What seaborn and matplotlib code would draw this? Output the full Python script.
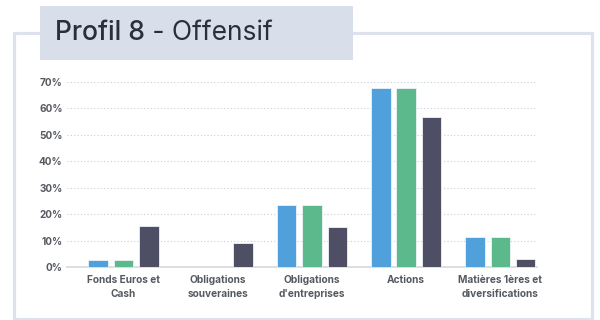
import matplotlib
matplotlib.use("Agg")
import matplotlib.pyplot as plt
from matplotlib.patches import Rectangle
from matplotlib.ticker import PercentFormatter
import pandas as pd
import seaborn as sns

# Asset classes and the allocation (in %) of each of the three portfolios
categories = [
    "Fonds Euros et\nCash",
    "Obligations\nsouveraines",
    "Obligations\nd'entreprises",
    "Actions",
    "Matières 1ères et\ndiversifications",
]
series_names = ["Allocation A", "Allocation B", "Allocation C"]
alloc_a = [2.8, 0, 23.3, 67.5, 11.2]
alloc_b = [2.8, 0, 23.3, 67.5, 11.2]
alloc_c = [15.5, 9.0, 15.0, 56.8, 3.0]
y_ticks = [0, 10, 20, 30, 40, 50, 60, 70]
title_main = "Profil 8"
title_rest = " - Offensif"

palette = ["#50a0dc", "#5bb98b", "#4e4f64"]

rows = []
for name, vals in zip(series_names, [alloc_a, alloc_b, alloc_c]):
    for cat, v in zip(categories, vals):
        rows.append({"categorie": cat, "serie": name, "valeur": v})
df = pd.DataFrame(rows)

sns.set_theme(style="white")
plt.rcParams["font.family"] = ["Inter", "DejaVu Sans"]

W, H = 600, 320
fig = plt.figure(figsize=(W / 100, H / 100), dpi=100)
fig.patch.set_facecolor("white")

# outer card frame
fig.add_artist(Rectangle((14 / W, 1 - 319 / H), 578 / W, 286 / H,
                         transform=fig.transFigure, fill=False,
                         edgecolor="#dde2ee", linewidth=2.3, zorder=0))
# title tab
fig.add_artist(Rectangle((40 / W, 1 - 60 / H), 313 / W, 54 / H,
                         transform=fig.transFigure, facecolor="#d9dfea",
                         edgecolor="none", zorder=1))

t1 = fig.text(55 / W, 1 - 33 / H, title_main, fontsize=19, fontweight="medium",
              color="#27303d", va="center", ha="left", zorder=2)
fig.canvas.draw()
bb = t1.get_window_extent(renderer=fig.canvas.get_renderer())
fig.text(bb.x1 / W, 1 - 33 / H, title_rest, fontsize=19, fontweight="normal",
         color="#27303d", va="center", ha="left", zorder=2)

ax = fig.add_axes([66.7 / W, 1 - 267 / H, (537 - 66.7) / W, (267 - 81.7) / H])
sns.barplot(data=df, x="categorie", y="valeur", hue="serie", palette=palette,
            order=categories, hue_order=series_names, width=0.807, gap=0.23,
            saturation=1, edgecolor="#eef2f8", linewidth=0.6, legend=False,
            ax=ax, zorder=3)

ax.set_ylim(0, 70)
ax.set_xlim(-0.603, 4.389)
ax.set_yticks(y_ticks)
ax.yaxis.set_major_formatter(PercentFormatter(decimals=0))
ax.set_xlabel("")
ax.set_ylabel("")
ax.grid(axis="y", linestyle=(0, (1, 2)), color="#c8ccd3", linewidth=0.8, zorder=0)
ax.set_axisbelow(True)
for s in ["top", "right", "left"]:
    ax.spines[s].set_visible(False)
ax.spines["bottom"].set_color("#d4d8de")
ax.spines["bottom"].set_linewidth(1.2)
ax.tick_params(axis="both", length=0)
ax.tick_params(axis="y", pad=3)
ax.tick_params(axis="x", pad=6)
for lab in ax.get_yticklabels():
    lab.set_fontsize(7.2)
    lab.set_fontweight("bold")
    lab.set_color("#555a60")
for lab in ax.get_xticklabels():
    lab.set_fontsize(7.3)
    lab.set_fontweight("bold")
    lab.set_color("#555a60")
    lab.set_linespacing(1.4)

fig.savefig("out.png", dpi=100, facecolor="white")
